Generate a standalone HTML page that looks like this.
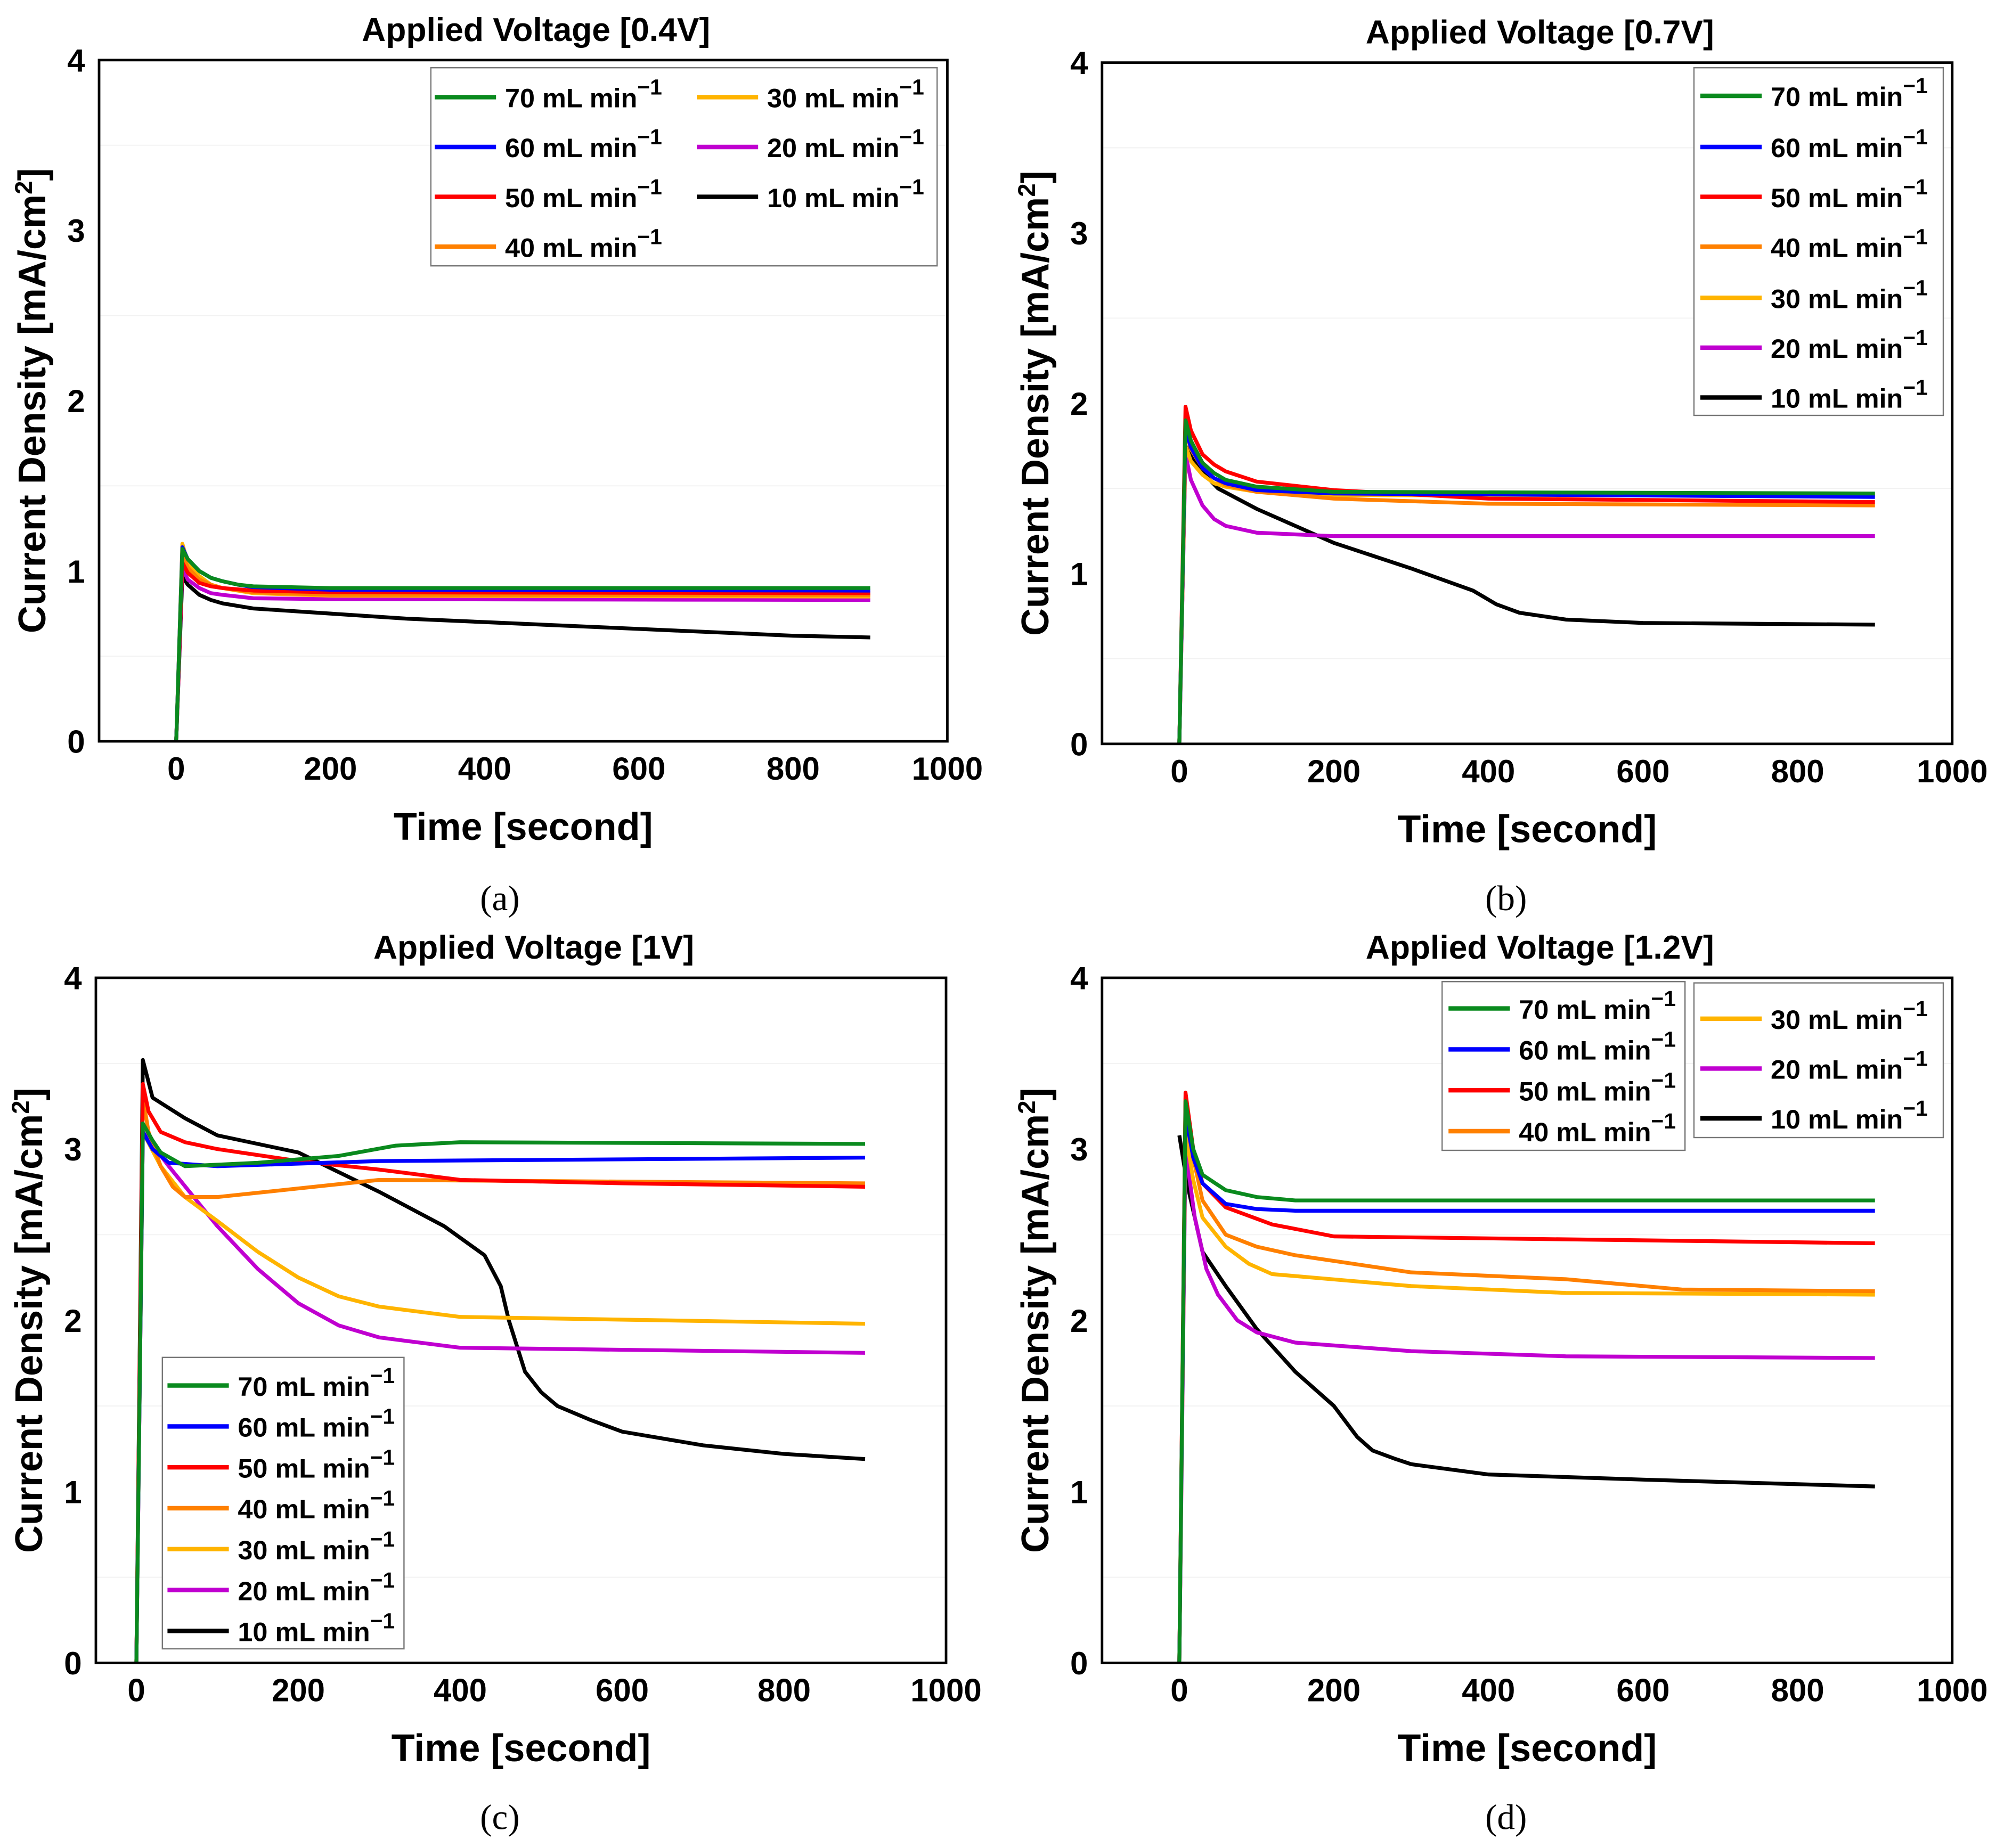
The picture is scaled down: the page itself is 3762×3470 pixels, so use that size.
<!DOCTYPE html>
<html><head><meta charset="utf-8"><style>
html,body{margin:0;padding:0;background:#fff}
svg{display:block}
text{font-family:"Liberation Sans",Arial,sans-serif;font-weight:bold;fill:#000}
.sub{font-family:"Liberation Serif",serif;font-weight:normal}
</style></head><body>
<svg id="fig" xmlns="http://www.w3.org/2000/svg" width="3762" height="3470" viewBox="0 0 1567.5 1445.83"></svg>
<script>
const NS="http://www.w3.org/2000/svg";
const seriesLabels=["70","60","50","40","30","20","10"];
const seriesColors=["#0a8a1e","#0000ff","#ff0000","#ff8000","#ffb400","#c000d0","#000000"];
const xTicks=[0,200,400,600,800,1000];
const yTicks=[0,1,2,3,4];
// panel (a) 0.4V
const dataA70=[[0,0],[8,1.13],[15,1.07],[30,1.0],[45,0.96],[60,0.94],[80,0.92],[100,0.91],[200,0.90],[900,0.90]];
const dataA60=[[0,0],[8,1.14],[15,1.07],[30,1.0],[45,0.96],[60,0.94],[80,0.92],[100,0.905],[200,0.89],[900,0.885]];
const dataA50=[[0,0],[8,1.05],[15,0.99],[30,0.93],[45,0.91],[60,0.9],[100,0.885],[200,0.875],[900,0.87]];
const dataA40=[[0,0],[8,1.1],[15,1.02],[30,0.95],[45,0.92],[60,0.9],[100,0.875],[200,0.86],[900,0.86]];
const dataA30=[[0,0],[8,1.16],[15,1.05],[30,0.97],[45,0.92],[60,0.9],[100,0.87],[200,0.855],[900,0.85]];
const dataA20=[[0,0],[8,1.02],[15,0.95],[30,0.9],[45,0.87],[60,0.86],[100,0.84],[200,0.835],[900,0.83]];
const dataA10=[[0,0],[8,0.97],[15,0.92],[30,0.86],[45,0.83],[60,0.81],[100,0.78],[200,0.75],[300,0.72],[400,0.7],[600,0.66],[800,0.62],[900,0.61]];
// panel (b) 0.7V
const dataB70=[[0,0],[8,1.9],[15,1.78],[30,1.65],[45,1.59],[60,1.55],[100,1.51],[200,1.48],[900,1.47]];
const dataB60=[[0,0],[8,1.85],[15,1.74],[30,1.62],[45,1.56],[60,1.53],[100,1.49],[200,1.47],[900,1.45]];
const dataB50=[[0,0],[8,1.98],[15,1.84],[30,1.7],[45,1.64],[60,1.6],[100,1.54],[200,1.49],[400,1.44],[900,1.42]];
const dataB40=[[0,0],[8,1.85],[15,1.73],[30,1.62],[45,1.56],[60,1.52],[100,1.48],[200,1.44],[400,1.41],[900,1.4]];
const dataB30=[[0,0],[8,1.75],[15,1.66],[30,1.58],[45,1.53],[60,1.51],[100,1.48],[200,1.46],[900,1.46]];
const dataB20=[[0,0],[8,1.7],[15,1.55],[30,1.4],[45,1.32],[60,1.28],[100,1.24],[200,1.22],[900,1.22]];
const dataB10=[[0,0],[8,1.75],[25,1.62],[50,1.5],[100,1.38],[150,1.28],[200,1.18],[300,1.03],[380,0.9],[410,0.82],[440,0.77],[500,0.73],[600,0.71],[900,0.7]];
// panel (c) 1V
const dataC70=[[0,0],[8,3.15],[20,3.05],[30,2.98],[60,2.9],[150,2.92],[250,2.96],[320,3.02],[400,3.04],[900,3.03]];
const dataC60=[[0,0],[8,3.1],[20,3.0],[40,2.92],[100,2.9],[300,2.93],[900,2.95]];
const dataC50=[[0,0],[8,3.38],[15,3.22],[30,3.1],[60,3.04],[100,3.0],[200,2.93],[300,2.88],[400,2.82],[600,2.8],[900,2.78]];
const dataC40=[[0,0],[8,3.3],[15,3.1],[30,2.9],[45,2.78],[60,2.72],[100,2.72],[200,2.77],[300,2.82],[900,2.8]];
const dataC30=[[0,0],[8,3.1],[30,2.9],[60,2.72],[100,2.58],[150,2.4],[200,2.25],[250,2.14],[300,2.08],[400,2.02],[900,1.98]];
const dataC20=[[0,0],[8,3.1],[40,2.9],[100,2.55],[150,2.3],[200,2.1],[250,1.97],[300,1.9],[400,1.84],[900,1.81]];
const dataC10=[[0,0],[8,3.52],[20,3.3],[60,3.18],[100,3.08],[200,2.98],[300,2.75],[380,2.55],[430,2.38],[450,2.2],[460,2.0],[480,1.7],[500,1.58],[520,1.5],[560,1.42],[600,1.35],[700,1.27],[800,1.22],[900,1.19]];
// panel (d) 1.2V
const dataD70=[[0,0],[8,3.28],[18,3.0],[30,2.85],[60,2.76],[100,2.72],[150,2.7],[900,2.7]];
const dataD60=[[0,0],[8,3.2],[18,2.95],[30,2.8],[60,2.68],[100,2.65],[150,2.64],[900,2.64]];
const dataD50=[[0,0],[8,3.33],[18,3.0],[30,2.8],[60,2.66],[120,2.56],[200,2.49],[900,2.45]];
const dataD40=[[0,0],[8,3.3],[18,2.95],[30,2.7],[60,2.5],[100,2.43],[150,2.38],[300,2.28],[500,2.24],[650,2.18],[900,2.17]];
const dataD30=[[0,0],[8,3.1],[18,2.82],[30,2.6],[60,2.43],[90,2.33],[120,2.27],[300,2.2],[500,2.16],[900,2.15]];
const dataD20=[[0,0],[8,3.0],[20,2.6],[35,2.3],[50,2.15],[75,2.0],[100,1.93],[150,1.87],[300,1.82],[500,1.79],[900,1.78]];
const dataD10=[[0,3.08],[10,2.8],[30,2.4],[60,2.2],[100,1.95],[150,1.7],[200,1.5],[230,1.32],[250,1.24],[280,1.19],[300,1.16],[400,1.1],[600,1.07],[900,1.03]];

const svg=document.getElementById('fig');
function el(tag,attrs,parent){const e=document.createElementNS(NS,tag);for(const k in attrs)e.setAttribute(k,attrs[k]);(parent||svg).appendChild(e);return e;}
function txt(s,attrs,parent){const e=el('text',attrs,parent);e.textContent=s;return e;}

const panels=[
 {id:'a',title:'Applied Voltage [0.4V]',L:77.5,R:741,T:47,B:580,xmin:-100,data:[dataA70,dataA60,dataA50,dataA40,dataA30,dataA20,dataA10],
  legend:{box:[337,53,396,155],items:[[340,76],[340,115],[340,154],[340,193],[545,76],[545,115],[545,154]]},sub:[391,703]},
 {id:'b',title:'Applied Voltage [0.7V]',L:862,R:1527,T:49,B:582,xmin:-100,data:[dataB70,dataB60,dataB50,dataB40,dataB30,dataB20,dataB10],
  legend:{box:[1325,53,195,272],items:[[1330,75],[1330,115],[1330,154],[1330,193],[1330,233],[1330,272],[1330,311]]},sub:[1178,703]},
 {id:'c',title:'Applied Voltage [1V]',L:75,R:740,T:765,B:1301,xmin:-50,data:[dataC70,dataC60,dataC50,dataC40,dataC30,dataC20,dataC10],
  legend:{box:[127,1062,189,228],items:[[131,1084],[131,1116],[131,1148],[131,1180],[131,1212],[131,1244],[131,1276]]},sub:[391,1422]},
 {id:'d',title:'Applied Voltage [1.2V]',L:862,R:1527,T:765,B:1301,xmin:-100,data:[dataD70,dataD60,dataD50,dataD40,dataD30,dataD20,dataD10],
  legend:{box:[1128,768,190,132],box2:[1325,769,195,121],items:[[1133,789],[1133,821],[1133,853],[1133,885],[1330,797],[1330,836],[1330,875]]},sub:[1178,1422]}
];

panels.forEach(p=>{
  const g=el('g',{});
  
  
  const xs=v=>p.L+(v-p.xmin)/(1000-p.xmin)*(p.R-p.L);
  const ys=v=>p.B-v/4*(p.B-p.T);
  [0.5,1.5,2.5,3.5].forEach(v=>{el('line',{x1:p.L,x2:p.R,y1:ys(v),y2:ys(v),stroke:'#f2f2f2','stroke-width':0.8},g);});
  const order=[6,5,4,3,2,1,0];
  order.forEach(i=>{
    const d=p.data[i];
    const pl=el('polyline',{points:d.map(q=>xs(q[0]).toFixed(2)+','+ys(q[1]).toFixed(2)).join(' '),fill:'none',stroke:seriesColors[i],'stroke-width':3,'stroke-linejoin':'round'},g);
    
    
  });
  const fr=el('rect',{x:p.L,y:p.T,width:p.R-p.L,height:p.B-p.T,fill:'none',stroke:'#000','stroke-width':2},g);
  
  
  xTicks.forEach(v=>{
    const t=txt(String(v),{x:xs(v),y:p.B+30,'font-size':25,'text-anchor':'middle'},g);
    
    
  });
  yTicks.forEach(v=>{
    const t=txt(String(v),{x:p.L-11,y:ys(v)+9,'font-size':25,'text-anchor':'end'},g);
    
    
  });
  const xt=txt('Time [second]',{x:(p.L+p.R)/2,y:p.B+77,'font-size':30,'text-anchor':'middle'},g);
  
  
  const yx=p.L-42, yy=(p.T+p.B)/2;
  const yt=el('text',{x:yx,y:yy,'font-size':30,'text-anchor':'middle',transform:`rotate(-90 ${yx} ${yy})`},g);
  yt.innerHTML='Current Density [mA/cm<tspan baseline-shift="super" font-size="19">2</tspan>]';
  
  
  const tt=txt(p.title,{x:(p.L+p.R)/2+10,y:p.T-15,'font-size':26,'text-anchor':'middle'},g);
  
  
  const lg=el('g',{},g);
  
  
  [p.legend.box,p.legend.box2].forEach(b=>{if(b)el('rect',{x:b[0],y:b[1],width:b[2],height:b[3],fill:'#fff',stroke:'#777','stroke-width':1},lg);});
  p.legend.items.forEach((it,i)=>{
    const e=el('g',{},lg);
    
    
    el('line',{x1:it[0],x2:it[0]+48,y1:it[1],y2:it[1],stroke:seriesColors[i],'stroke-width':3.5},e);
    const t=el('text',{x:it[0]+55,y:it[1]+8,'font-size':21},e);
    t.innerHTML=seriesLabels[i]+' mL min<tspan dy="-10" font-size="17">−1</tspan>';
  });
  const sl=txt('('+p.id+')',{x:p.sub[0],y:p.sub[1]+9,'font-size':28,'text-anchor':'middle',class:'sub'});
  
  
});
</script>
</body></html>
